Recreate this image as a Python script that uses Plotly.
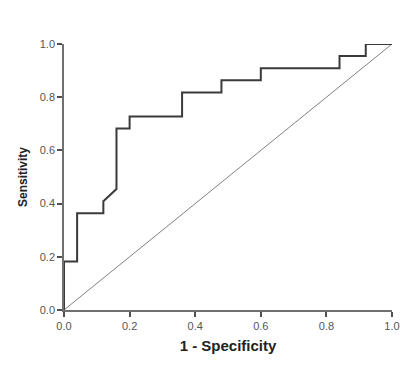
import plotly.graph_objects as go

# ROC curve points (1 - Specificity, Sensitivity)
fpr = [0.0, 0.0, 0.04, 0.04, 0.12, 0.12, 0.16, 0.16, 0.20, 0.20, 0.36, 0.36,
       0.48, 0.48, 0.60, 0.60, 0.84, 0.84, 0.92, 0.92, 1.0]
tpr = [0.0, 0.182, 0.182, 0.364, 0.364, 0.409, 0.455, 0.682, 0.682, 0.727, 0.727, 0.818,
       0.818, 0.864, 0.864, 0.909, 0.909, 0.955, 0.955, 1.0, 1.0]
ref_x = [0.0, 1.0]
ref_y = [0.0, 1.0]
tick_vals = [0.0, 0.2, 0.4, 0.6, 0.8, 1.0]
tick_text = ["0.0", "0.2", "0.4", "0.6", "0.8", "1.0"]

fig = go.Figure()
fig.add_trace(go.Scatter(x=ref_x, y=ref_y, mode="lines",
                         line=dict(color="#808080", width=1), showlegend=False))
fig.add_trace(go.Scatter(x=fpr, y=tpr, mode="lines",
                         line=dict(color="#3a3a3a", width=2), showlegend=False))

axis_common = dict(
    range=[0, 1], tickvals=tick_vals, ticktext=tick_text, automargin=False,
    showgrid=False, zeroline=False, showline=True, linecolor="#707070", linewidth=1.5,
    ticks="outside", ticklen=5, tickwidth=1.5, tickcolor="#505050",
    tickfont=dict(family="Liberation Sans, Arial", size=11, color="#555555"),
)
fig.update_layout(
    width=400, height=365,
    margin=dict(l=64, r=8, t=44, b=55),
    paper_bgcolor="white", plot_bgcolor="white",
    xaxis=dict(**axis_common,
               title=dict(text="<b>1 - Specificity</b>", standoff=10,
                          font=dict(family="Liberation Sans, Arial", size=15, color="#222222"))),
    yaxis=dict(**axis_common,
               title=dict(text="<b>Sensitivity</b>", standoff=10,
                          font=dict(family="Liberation Sans, Arial", size=12, color="#222222"))),
)
fig.write_html("out.html", config={"displayModeBar": False},
               post_script="document.body.style.margin='0';document.body.style.overflow='hidden';")
